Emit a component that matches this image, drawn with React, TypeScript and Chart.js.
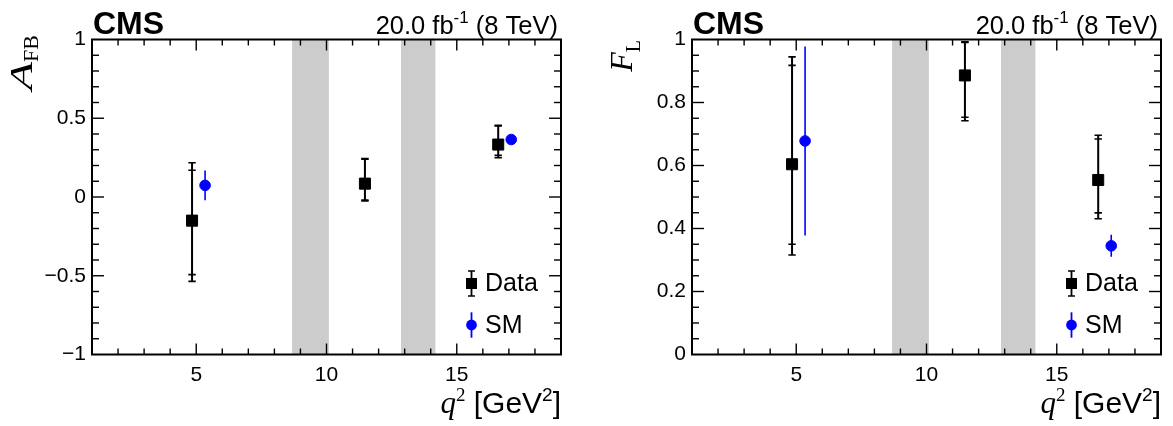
import React, { useEffect, useRef } from 'react';
import { Chart, registerables } from 'chart.js';

Chart.register(...registerables);

// ---------------- data ----------------
const dataQ2 = [4.84, 11.475, 16.59];
const smQ2 = [5.34, 17.09];
const vetoBands = [
  [8.68, 10.09],
  [12.86, 14.18],
];
const xMajorTicks = [5, 10, 15];

const afbData = [-0.15, 0.085, 0.333];
const afbStatUp = [0.32, 0.155, 0.118];
const afbStatDown = [0.343, 0.105, 0.068];
const afbTotUp = [0.367, 0.159, 0.122];
const afbTotDown = [0.386, 0.11, 0.083];
const afbSM = [0.074, 0.365];
const afbSMErr = [0.095, 0.02];
const afbTicks = [-1, -0.5, 0, 0.5, 1];

const flData = [0.604, 0.886, 0.554];
const flStatUp = [0.314, 0.105, 0.13];
const flStatDown = [0.254, 0.133, 0.1045];
const flTotUp = [0.341, 0.107, 0.142];
const flTotDown = [0.288, 0.144, 0.123];
const flSM = [0.678, 0.345];
const flSMErr = [0.3, 0.035];
const flTicks = [0, 0.2, 0.4, 0.6, 0.8, 1];

const SANS = '"Liberation Sans", Arial, Helvetica, sans-serif';
const SERIF = '"Liberation Serif", "Times New Roman", serif';
const BLUE = '#0000ff';
const BAND = '#cccccc';

type Seg = { text: string; font: string; dy?: number; sx?: number };

function drawRich(ctx: CanvasRenderingContext2D, segs: Seg[], x: number, y: number, align: 'left' | 'right') {
  ctx.save();
  ctx.textAlign = 'left';
  ctx.textBaseline = 'alphabetic';
  let total = 0;
  const widths = segs.map((s) => {
    ctx.font = s.font;
    const w = ctx.measureText(s.text).width * (s.sx || 1);
    total += w;
    return w;
  });
  let cx = align === 'right' ? x - total : x;
  segs.forEach((s, i) => {
    ctx.font = s.font;
    ctx.save();
    ctx.translate(cx, y + (s.dy || 0));
    ctx.scale(s.sx || 1, 1);
    ctx.fillText(s.text, 0, 0);
    ctx.restore();
    cx += widths[i];
  });
  ctx.restore();
}

type Panel = {
  yMin: number;
  yMax: number;
  yTicks: number[];
  yMinorStep: number;
  vals: number[];
  statUp: number[];
  statDown: number[];
  totUp: number[];
  totDown: number[];
  sm: number[];
  smErr: number[];
  titleMain: string;
  titleSub: string;
  mainSx: number;
  subSize: number;
  titleX: number;
  titleEnd: number;
  subDy: number;
  padRight: number;
  width: number;
};

const panels: Panel[] = [
  {
    yMin: -1, yMax: 1, yTicks: afbTicks, yMinorStep: 0.1,
    vals: afbData, statUp: afbStatUp, statDown: afbStatDown, totUp: afbTotUp, totDown: afbTotDown,
    sm: afbSM, smErr: afbSMErr,
    titleMain: 'A', titleSub: 'FB', mainSx: 1.45, subSize: 22, titleX: 32, titleEnd: 35, subDy: 6,
    padRight: 39, width: 600,
  },
  {
    yMin: 0, yMax: 1, yTicks: flTicks, yMinorStep: 0.05,
    vals: flData, statUp: flStatUp, statDown: flStatDown, totUp: flTotUp, totDown: flTotDown,
    sm: flSM, smErr: flSMErr,
    titleMain: 'F', titleSub: 'L', mainSx: 1, subSize: 20, titleX: 32, titleEnd: 40, subDy: 8,
    padRight: 12, width: 573,
  },
];

function line(ctx: CanvasRenderingContext2D, x1: number, y1: number, x2: number, y2: number) {
  ctx.beginPath();
  ctx.moveTo(x1, y1);
  ctx.lineTo(x2, y2);
  ctx.stroke();
}

function makePlugin(p: Panel) {
  return {
    id: 'rootStyle',
    beforeDatasetsDraw(chart: any) {
      const ctx: CanvasRenderingContext2D = chart.ctx;
      const { left, right, top, bottom } = chart.chartArea;
      const xs = chart.scales.x;
      const ys = chart.scales.y;
      ctx.save();
      ctx.beginPath();
      ctx.rect(left, top, right - left, bottom - top);
      ctx.clip();
      ctx.fillStyle = BAND;
      vetoBands.forEach(([a, b]) => {
        const xa = xs.getPixelForValue(a);
        const xb = xs.getPixelForValue(b);
        ctx.fillRect(xa, top, xb - xa, bottom - top);
      });
      // data error bars
      ctx.strokeStyle = '#000';
      dataQ2.forEach((q, i) => {
        const px = xs.getPixelForValue(q);
        const v = p.vals[i];
        ctx.lineWidth = 2;
        line(ctx, px, ys.getPixelForValue(v - p.totDown[i]), px, ys.getPixelForValue(v + p.totUp[i]));
        ctx.lineWidth = 1.6;
        [v + p.statUp[i], v - p.statDown[i], v + p.totUp[i], v - p.totDown[i]].forEach((e) => {
          const py = ys.getPixelForValue(e);
          line(ctx, px - 3.7, py, px + 3.7, py);
        });
      });
      // SM error bars
      ctx.strokeStyle = BLUE;
      ctx.lineWidth = 1.6;
      smQ2.forEach((q, i) => {
        const px = xs.getPixelForValue(q);
        const v = p.sm[i];
        line(ctx, px, ys.getPixelForValue(v - p.smErr[i]), px, ys.getPixelForValue(v + p.smErr[i]));
      });
      ctx.restore();
    },
    afterDatasetsDraw(chart: any) {
      const ctx: CanvasRenderingContext2D = chart.ctx;
      const { left, right, top, bottom } = chart.chartArea;
      const xs = chart.scales.x;
      const ys = chart.scales.y;
      ctx.save();
      ctx.strokeStyle = '#000';
      ctx.lineWidth = 1.4;
      for (let v = Math.ceil(xs.min); v <= xs.max; v += 1) {
        if (v <= xs.min || v >= xs.max) continue;
        const px = xs.getPixelForValue(v);
        const len = xMajorTicks.includes(v) ? 11 : 6;
        line(ctx, px, bottom, px, bottom - len);
        line(ctx, px, top, px, top + len);
      }
      const n = Math.round((p.yMax - p.yMin) / p.yMinorStep);
      for (let k = 1; k < n; k++) {
        const v = p.yMin + k * p.yMinorStep;
        const py = ys.getPixelForValue(v);
        const major = p.yTicks.some((t) => Math.abs(t - v) < 1e-9);
        const len = major ? 12 : 7;
        line(ctx, left, py, left + len, py);
        line(ctx, right, py, right - len, py);
      }
      ctx.lineWidth = 2;
      ctx.strokeRect(left, top, right - left, bottom - top);
      ctx.restore();
    },
    afterDraw(chart: any) {
      const ctx: CanvasRenderingContext2D = chart.ctx;
      const { left, right, bottom } = chart.chartArea;
      ctx.save();
      ctx.fillStyle = '#000';
      // header
      drawRich(ctx, [{ text: 'CMS', font: `bold 32px ${SANS}` }], left + 1, 34, 'left');
      drawRich(
        ctx,
        [
          { text: '20.0 fb', font: `25.5px ${SANS}` },
          { text: '-1', font: `17px ${SANS}`, dy: -11 },
          { text: ' (8 TeV)', font: `25.5px ${SANS}` },
        ],
        right - 3,
        34,
        'right'
      );
      // x title
      drawRich(
        ctx,
        [
          { text: 'q', font: `italic 31px ${SERIF}` },
          { text: '2', font: `19px ${SERIF}`, dy: -12 },
          { text: ' [GeV', font: `30px ${SANS}` },
          { text: '2', font: `19px ${SANS}`, dy: -12 },
          { text: ']', font: `30px ${SANS}` },
        ],
        right,
        413,
        'right'
      );
      // y title (rotated)
      ctx.save();
      ctx.translate(p.titleX, p.titleEnd);
      ctx.rotate(-Math.PI / 2);
      drawRich(
        ctx,
        [
          { text: p.titleMain, font: `italic 32px ${SERIF}`, sx: p.mainSx },
          { text: p.titleSub, font: `${p.subSize}px ${SERIF}`, dy: p.subDy },
        ],
        0,
        0,
        'right'
      );
      ctx.restore();
      // legend
      const mx = right - 89.5;
      const yData = bottom - 71;
      const ySM = bottom - 29.5;
      ctx.strokeStyle = '#000';
      ctx.lineWidth = 1.8;
      line(ctx, mx, yData - 12.5, mx, yData + 12.5);
      ctx.lineWidth = 1.5;
      line(ctx, mx - 3.5, yData - 12.5, mx + 3.5, yData - 12.5);
      line(ctx, mx - 3.5, yData + 12.5, mx + 3.5, yData + 12.5);
      ctx.fillRect(mx - 5.5, yData - 5.5, 11, 11);
      ctx.strokeStyle = BLUE;
      ctx.fillStyle = BLUE;
      ctx.lineWidth = 1.8;
      line(ctx, mx, ySM - 12.7, mx, ySM + 12.7);
      ctx.beginPath();
      ctx.arc(mx, ySM, 5.4, 0, Math.PI * 2);
      ctx.fill();
      ctx.fillStyle = '#000';
      drawRich(ctx, [{ text: 'Data', font: `25px ${SANS}` }], right - 76, bottom - 63.8, 'left');
      drawRich(ctx, [{ text: 'SM', font: `25px ${SANS}` }], right - 76, bottom - 21.2, 'left');
      ctx.restore();
    },
  };
}

function fmt(v: number) {
  if (v === 0) return '0';
  return String(v).replace('-', '\u2212');
}

function PanelChart({ p, left }: { p: Panel; left: number }) {
  const ref = useRef<HTMLCanvasElement | null>(null);
  useEffect(() => {
    if (!ref.current) return;
    const chart = new Chart(ref.current, {
      type: 'scatter',
      data: {
        datasets: [
          {
            label: 'Data',
            data: dataQ2.map((x, i) => ({ x, y: p.vals[i] })),
            pointStyle: 'rect',
            pointRadius: 7.8,
            pointHoverRadius: 7.8,
            backgroundColor: '#000',
            borderColor: '#000',
            borderWidth: 1,
          },
          {
            label: 'SM',
            data: smQ2.map((x, i) => ({ x, y: p.sm[i] })),
            pointStyle: 'circle',
            pointRadius: 5.3,
            pointHoverRadius: 5.3,
            backgroundColor: BLUE,
            borderColor: BLUE,
            borderWidth: 1,
          },
        ],
      },
      options: {
        animation: false,
        responsive: false,
        maintainAspectRatio: false,
        events: [],
        layout: { padding: { top: 39.5, right: p.padRight, bottom: 0, left: 0 } },
        plugins: { legend: { display: false }, tooltip: { enabled: false }, title: { display: false } },
        scales: {
          x: {
            type: 'linear',
            min: 1,
            max: 19,
            afterBuildTicks: (s: any) => {
              s.ticks = xMajorTicks.map((value) => ({ value }));
            },
            afterFit: (s: any) => {
              s.height = 71.5;
            },
            grid: { display: false, drawTicks: false },
            border: { display: false },
            ticks: { color: '#000', font: { family: SANS, size: 21 }, padding: 8, maxRotation: 0, autoSkip: false },
          },
          y: {
            type: 'linear',
            min: p.yMin,
            max: p.yMax,
            afterBuildTicks: (s: any) => {
              s.ticks = p.yTicks.map((value) => ({ value }));
            },
            afterFit: (s: any) => {
              s.width = 92;
            },
            grid: { display: false, drawTicks: false },
            border: { display: false },
            ticks: {
              color: '#000',
              font: { family: SANS, size: 21 },
              padding: 6,
              autoSkip: false,
              callback: (v: any) => fmt(Number(v)),
            },
          },
        },
      },
      plugins: [makePlugin(p)],
    } as any);
    return () => chart.destroy();
  }, [p]);
  return (
    <canvas
      ref={ref}
      width={p.width}
      height={426}
      style={{ position: 'absolute', left, top: 0, width: p.width, height: 426 }}
    />
  );
}

export default function App() {
  return (
    <div style={{ position: 'fixed', left: 0, top: 0, width: 1173, height: 426, background: '#fff', overflow: 'hidden' }}>
      <PanelChart p={panels[0]} left={0} />
      <PanelChart p={panels[1]} left={600} />
    </div>
  );
}
